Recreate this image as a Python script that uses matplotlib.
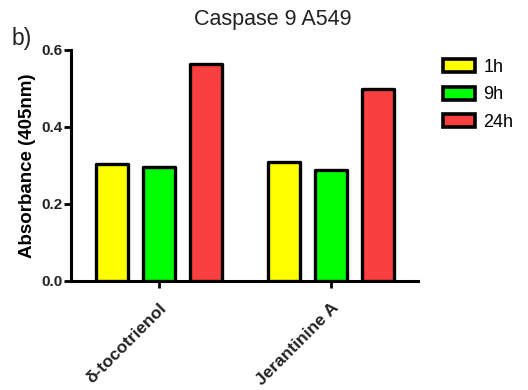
import matplotlib
matplotlib.use("Agg")
import matplotlib.pyplot as plt
from matplotlib import font_manager
import numpy as np
from matplotlib.patches import Patch

plt.rcParams['font.family'] = ['Liberation Sans', 'DejaVu Sans']

# Regular-width Liberation Sans Bold (avoid the Narrow variant)
bold_path = None
for f in font_manager.fontManager.ttflist:
    fn = f.fname.lower().replace("_", "-")
    if "liberationsans-bold." in fn:
        bold_path = f.fname
        break
if bold_path:
    bold = lambda size: font_manager.FontProperties(fname=bold_path, size=size)
else:
    bold = lambda size: font_manager.FontProperties(family="DejaVu Sans", weight="bold", size=size)

categories = ["δ-tocotrienol", "Jerantinine A"]
series_names = ["1h", "9h", "24h"]
values_1h = [0.304, 0.309]
values_9h = [0.296, 0.288]
values_24h = [0.564, 0.499]
colors = ["#ffff00", "#00ff00", "#f94040"]
yticks = [0.0, 0.2, 0.4, 0.6]

fig = plt.figure(figsize=(5.28, 3.9), dpi=100)
ax = fig.add_axes([0.1345, 0.2795, 0.6575, 0.5925])

x = np.arange(len(categories))
spacing = 0.273
width = 0.186
for i, (vals, col) in enumerate(zip([values_1h, values_9h, values_24h], colors)):
    ax.bar(x + (i - 1) * spacing, vals, width=width, color=col,
           edgecolor="black", linewidth=2.4, joinstyle="round", zorder=3)

ax.set_xlim(-0.512, 1.506)
ax.set_ylim(0, 0.6)
ax.set_yticks(yticks)
ax.set_yticklabels([f"{t:.1f}" for t in yticks], fontproperties=bold(11), color="#222222")
ax.set_xticks(x)
ax.set_xticklabels(categories, rotation=45, ha="right", rotation_mode="anchor",
                   fontproperties=bold(12.5), color="#222222")
for s in ["top", "right"]:
    ax.spines[s].set_visible(False)
for s in ["left", "bottom"]:
    ax.spines[s].set_linewidth(2.2)
ax.tick_params(axis="both", width=2, length=5, color="black")
ax.tick_params(axis="y", pad=1)
ax.tick_params(axis="x", pad=9)
ax.set_ylabel("Absorbance (405nm)", fontproperties=bold(13.5), labelpad=4)

fig.text(273 / 528, 1 - 25 / 390, "Caspase 9 A549", fontsize=15.5, color="#222222",
         ha="center", va="baseline")
fig.text(12 / 528, 1 - 45 / 390, "b)", fontsize=16.5, color="#222222", va="baseline")

handles = [Patch(facecolor=c, edgecolor="black", linewidth=2.6) for c in colors]
fig.legend(handles, series_names, loc="upper left", bbox_to_anchor=(443 / 528, 1 - 59 / 390),
           frameon=False, fontsize=13, handlelength=1.75, handleheight=0.75,
           labelspacing=0.58, handletextpad=0.5, borderpad=0, borderaxespad=0)

fig.savefig("out.png", dpi=100)
